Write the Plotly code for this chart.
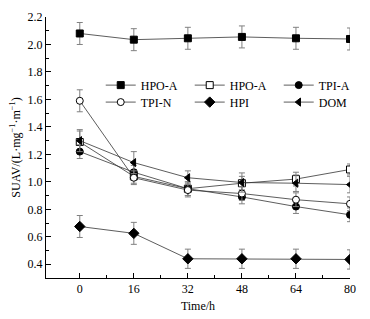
import plotly.graph_objects as go

time_h = [0, 16, 32, 48, 64, 80]
names = ["HPO-A", "HPO-A", "TPI-A", "TPI-N", "HPI", "DOM"]
hpo_a_filled = [2.08, 2.035, 2.045, 2.055, 2.045, 2.04]
hpo_a_open = [1.29, 1.04, 0.95, 0.99, 1.02, 1.09]
tpi_a = [1.22, 1.07, 0.95, 0.89, 0.82, 0.76]
tpi_n = [1.59, 1.03, 0.94, 0.915, 0.87, 0.84]
hpi = [0.675, 0.625, 0.44, 0.44, 0.44, 0.435]
dom = [1.30, 1.14, 1.03, 0.995, 0.99, 0.98]
err_hpo_a_filled = [0.08, 0.08, 0.08, 0.08, 0.08, 0.08]
err_hpo_a_open = [0.08, 0.05, 0.05, 0.05, 0.05, 0.04]
err_tpi_a = [0.05, 0.05, 0.05, 0.05, 0.05, 0.05]
err_tpi_n = [0.08, 0.05, 0.05, 0.05, 0.05, 0.05]
err_hpi = [0.08, 0.08, 0.07, 0.07, 0.07, 0.07]
err_dom = [0.08, 0.08, 0.05, 0.07, 0.06, 0.06]

# (name, values, errors, symbol, fill, legend row)
series = [
    (names[0], hpo_a_filled, err_hpo_a_filled, "square", "black", "legend"),
    (names[1], hpo_a_open, err_hpo_a_open, "square", "white", "legend"),
    (names[2], tpi_a, err_tpi_a, "circle", "black", "legend"),
    (names[3], tpi_n, err_tpi_n, "circle", "white", "legend2"),
    (names[4], hpi, err_hpi, "diamond", "black", "legend2"),
    (names[5], dom, err_dom, "triangle-left", "black", "legend2"),
]

fig = go.Figure()
for name, vals, err, sym, fill, lg in series:
    fig.add_trace(go.Scatter(
        x=time_h, y=vals, name=name, mode="lines+markers", legend=lg,
        line=dict(color="#333333", width=0.8),
        marker=dict(symbol=sym, size=8 if sym == "diamond" else 7, color=fill,
                    line=dict(color="black", width=1)),
        error_y=dict(type="data", array=err, visible=True, color="#808080",
                     thickness=1, width=3),
    ))

font_family = "Liberation Serif, Times New Roman, serif"
leg_common = dict(orientation="h", yanchor="middle", xanchor="left", x=0.18,
                  font=dict(size=12), bgcolor="rgba(0,0,0,0)", itemwidth=30,
                  entrywidth=44, entrywidthmode="pixels",
                  tracegroupgap=0, borderwidth=0)
fig.update_layout(
    width=362, height=311,
    margin=dict(l=38, r=20, t=9, b=41, autoexpand=False),
    plot_bgcolor="white", paper_bgcolor="white",
    font=dict(family=font_family, size=12, color="black"),
    showlegend=True,
    legend=dict(y=0.739, **leg_common),
    legend2=dict(y=0.674, **leg_common),
    xaxis=dict(range=[-10, 80], tickvals=[0, 16, 32, 48, 64, 80],
               ticks="inside", ticklen=5, tickcolor="black", showline=True,
               linecolor="black", linewidth=1, showgrid=False, zeroline=False,
               automargin=False,
               minor=dict(tickvals=[8, 24, 40, 56, 72], ticks="inside", ticklen=3,
                          tickcolor="black"),
               title=dict(text="Time/h", standoff=6, font=dict(size=12))),
    yaxis=dict(range=[0.3, 2.2], tickvals=[0.4, 0.6, 0.8, 1.0, 1.2, 1.4, 1.6, 1.8, 2.0, 2.2],
               ticktext=["0.4", "0.6", "0.8", "1.0", "1.2", "1.4", "1.6", "1.8", "2.0", "2.2"],
               ticks="inside", ticklen=5, tickcolor="black", showline=True,
               linecolor="black", linewidth=1, showgrid=False, zeroline=False,
               automargin=False,
               minor=dict(dtick=0.1, tick0=0.3, ticks="inside", ticklen=3, tickcolor="black"),
               title=dict(text="SUAV/(L·mg<sup>−1</sup>·m<sup>−1</sup>)", standoff=4,
                          font=dict(size=12))),
)

fig.write_html("out.html")
